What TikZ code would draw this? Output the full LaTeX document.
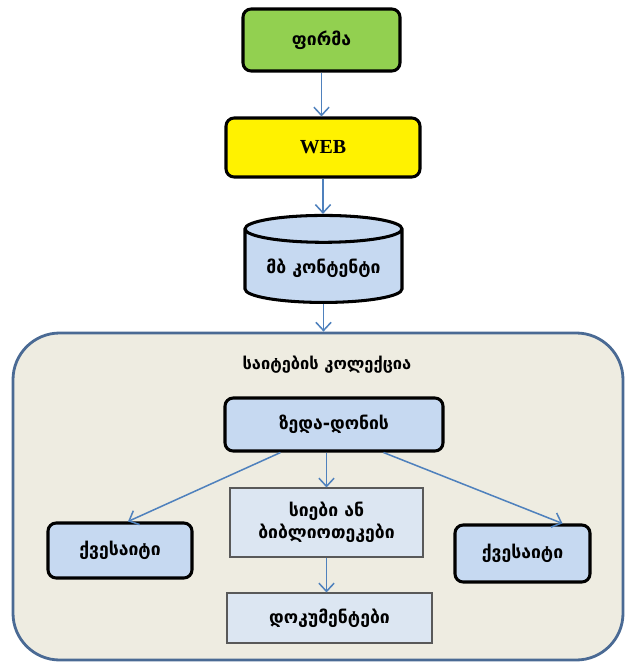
\documentclass[tikz,border=0pt]{standalone}
\usepackage{fontspec}
\setmainfont{DejaVu Sans}
\newfontfamily\webfont{Liberation Serif}
\usetikzlibrary{calc, arrows.meta, shapes.geometric}

\definecolor{firmgreen}{HTML}{92D050}
\definecolor{boxblue}{HTML}{C6D9F1}
\definecolor{listblue}{HTML}{DCE6F2}
\definecolor{collfill}{HTML}{EEECE1}
\definecolor{colledge}{HTML}{4A6A94}
\definecolor{flowblue}{HTML}{4F81BD}

\begin{document}
\begin{tikzpicture}[x=0.03cm, y=-0.03cm,
    font=\fontsize{15}{19}\selectfont\bfseries,
    thickbox/.style={draw=black, line width=2.6pt, rounded corners=7pt},
    flatbox/.style={draw=black!65, line width=0.9pt, fill=listblue, align=center},
    flow/.style={draw=flowblue, line width=1.3pt, -{Straight Barb[length=7pt, width=13pt]}}]
    \useasboundingbox (0,0) rectangle (628,662);

    % outer collection
    \node[draw=colledge, line width=2.4pt, fill=collfill, rounded corners=1.4cm,
          minimum width=610*0.03cm, minimum height=327*0.03cm] (coll) at (318,496.5) {};
    \node[font=\fontsize{14}{17}\selectfont\bfseries] (colltitle) at (327,365) {საიტების კოლექცია};

    % top chain
    \node[thickbox, fill=firmgreen, minimum width=4.71cm, minimum height=1.86cm] (firm) at (321.5,40) {ფირმა};
    \node[thickbox, fill=yellow, minimum width=5.82cm, minimum height=1.77cm, font=\fontsize{17}{20}\selectfont\webfont\bfseries] (web) at (323,147.5) {WEB};
    \node[cylinder, shape border rotate=90, aspect=0.22, draw=black, line width=2.6pt,
          cylinder uses custom fill, cylinder body fill=boxblue, cylinder end fill=boxblue,
          minimum width=4.71cm, minimum height=2.61cm] (db) at (323.5,268.5) {მბ კონტენტი};

    % inside the collection
    \node[thickbox, fill=boxblue, minimum width=6.54cm, minimum height=1.59cm] (top) at (334,424.5) {ზედა-დონის};
    \node[thickbox, fill=boxblue, minimum width=4.32cm, minimum height=1.65cm] (subl) at (120,550.5) {ქვესაიტი};
    \node[thickbox, fill=boxblue, minimum width=4.05cm, minimum height=1.71cm] (subr) at (522.5,553.5) {ქვესაიტი};
    \node[flatbox, minimum width=5.79cm, minimum height=2.07cm] (lists) at (326.5,522.5) {სიები ან\\ბიბლიოთეკები};
    \node[flatbox, minimum width=6.15cm, minimum height=1.5cm] (docs) at (329.5,618) {დოკუმენტები};

    % connectors
    \draw[flow] (firm.south) -- (web.north -| firm.south);
    \draw[flow] (web.south) -- (db.north -| web.south);
    \draw[flow] (db.south) -- (db.south |- coll.north);
    \draw[flow] (top.south -| lists.north) -- (lists.north);
    \draw[flow] ($(top.south west)+(57,0)$) -- ($(subl.north)+(8,0)$);
    \draw[flow] ($(top.south east)+(-61,0)$) -- ($(subr.north)+(40,0)$);
    \draw[flow] (lists.south) -- (docs.north -| lists.south);
\end{tikzpicture}
\end{document}
